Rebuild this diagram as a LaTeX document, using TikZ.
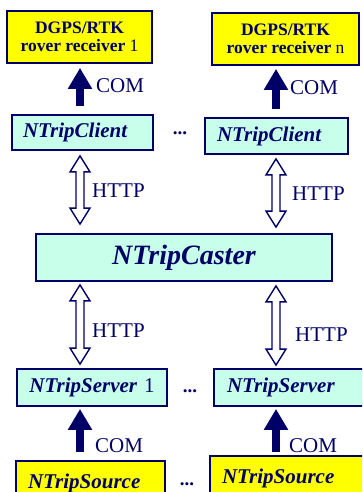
\documentclass[tikz,border=0pt]{standalone}
\usepackage{fontspec}
\setmainfont{Liberation Serif}
\usepackage{tikz}
\usetikzlibrary{arrows.meta,calc}

\definecolor{navy}{RGB}{0,0,102}
\definecolor{mint}{RGB}{200,255,235}
\definecolor{ylw}{RGB}{255,255,0}

\tikzset{
	box/.style={draw=navy, line width=1.8pt, text=navy, inner ysep=0pt},
	ybox/.style={box, fill=ylw},
	cbox/.style={box, fill=mint},
	ntrip/.style={font=\fontsize{21}{24}\selectfont\bfseries\itshape, align=left},
	rover/.style={font=\fontsize{17.5}{18.5}\selectfont, align=center, minimum height=52pt},
	lbl/.style={text=navy, anchor=west, inner sep=0pt, font=\fontsize{21}{24}\selectfont},
	dots/.style={text=navy, inner sep=0pt, font=\fontsize{19}{20}\selectfont\bfseries},
	comarrow/.style={draw=navy, line width=8pt, -{Triangle[width=23pt,length=21pt]}},
	httparrow/.style={draw=navy, line width=1.4pt, fill=white,
		to path={let \p1=(\tikztostart), \p2=(\tikztotarget) in
			(\x1,\y1) -- (\x1+10pt,\y1-16pt) -- (\x1+4pt,\y1-16pt) -- (\x1+4pt,\y2+16pt)
			-- (\x1+10pt,\y2+16pt) -- (\x1,\y2) -- (\x1-10pt,\y2+16pt) -- (\x1-4pt,\y2+16pt)
			-- (\x1-4pt,\y1-16pt) -- (\x1-10pt,\y1-16pt) -- cycle}}
}

\begin{document}
\begin{tikzpicture}[x=1pt,y=-1pt]
	\clip (0,0) rectangle (362,492);
	
	% rover receivers
	\node[ybox, rover, minimum width=145pt] (rv1) at (79.5,37) {\textbf{DGPS/RTK}\\\textbf{rover receiver} 1};
	\node[ybox, rover, minimum width=147pt] (rvn) at (285.5,39) {\textbf{DGPS/RTK}\\\textbf{rover receiver} n};
	
	% clients
	\node[cbox, ntrip, minimum height=35pt, text width=119pt, inner xsep=11pt] (cl1) at (82.5,132.5) {NTripClient};
	\node[cbox, ntrip, minimum height=36pt, text width=119pt, inner xsep=12pt] (cln) at (276.5,136) {NTripClient};
	\node[dots] (d1) at (180,133) {...};
	
	% caster
	\node[cbox, font=\fontsize{28}{30}\selectfont\bfseries\itshape, minimum width=296pt, minimum height=47pt] (cst) at (184,257.5) {NTripCaster};
	
	% servers
	\node[cbox, ntrip, align=center, minimum height=37pt, text width=140pt, inner xsep=5pt] (sv1) at (92,387.5) {NTripServer {\normalfont 1}};
	\node[cbox, ntrip, minimum height=37pt, text width=128pt, inner xsep=13pt] (svn) at (291,387.5) {NTripServer};
	\node[dots] (d2) at (190,391) {...};
	
	% sources
	\node[ybox, ntrip, minimum height=44pt, text width=125pt, inner xsep=12pt] (sr1) at (90.5,483) {NTripSource};
	\node[ybox, ntrip, minimum height=44pt, text width=136pt, inner xsep=12pt] (srn) at (290,478) {NTripSource};
	\node[dots] (d3) at (187,484) {...};
	
	% arrow axes
	\coordinate (ax1) at (80,0);
	\coordinate (axn) at (276,0);
	
	% COM links
	\draw[comarrow, shorten <=8pt, shorten >=4pt] (cl1.north -| ax1) -- (rv1.south -| ax1);
	\draw[comarrow, shorten <=8pt, shorten >=3pt] (cln.north -| axn) -- (rvn.south -| axn);
	\draw[comarrow, shorten <=8pt, shorten >=2pt] (sr1.north -| ax1) -- (sv1.south -| ax1);
	\draw[comarrow, shorten <=3pt, shorten >=2pt] (srn.north -| axn) -- (svn.south -| axn);
	
	% HTTP links
	\draw[httparrow] ($(cl1.south -| ax1)+(0,5)$) to ($(cst.north -| ax1)+(0,-9)$);
	\draw[httparrow] ($(cln.south -| axn)+(0,4)$) to ($(cst.north -| axn)+(0,-6)$);
	\draw[httparrow] ($(cst.south -| ax1)+(0,3)$) to ($(sv1.north -| ax1)+(0,-4)$);
	\draw[httparrow] ($(cst.south -| axn)+(0,4)$) to ($(svn.north -| axn)+(0,-3)$);
	
	% labels
	\node[lbl] (com1) at (96,86) {COM};
	\node[lbl] (comn) at (290,88) {COM};
	\node[lbl] (http1) at (92,191) {HTTP};
	\node[lbl] (httpn) at (292,193.5) {HTTP};
	\node[lbl] (http2) at (92,331) {HTTP};
	\node[lbl] (httpm) at (295,335) {HTTP};
	\node[lbl] (com2) at (95,446) {COM};
	\node[lbl] (comm) at (289,446) {COM};
\end{tikzpicture}
\end{document}
